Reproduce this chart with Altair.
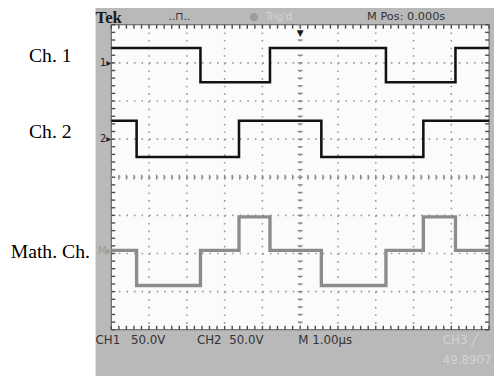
import altair as alt
import pandas as pd

# Oscilloscope capture: time in µs (1.00 µs/div), level in divisions
ch1_t = [0.0, 2.36, 4.20, 7.27, 9.11, 10.0]
ch1_v = [3.39, 2.49, 3.39, 2.49, 3.39, 3.39]
ch2_t = [0.0, 0.67, 3.38, 5.56, 8.26, 10.0]
ch2_v = [1.48, 0.53, 1.48, 0.53, 1.48, 1.48]
math_t = [0.0, 0.67, 2.36, 3.38, 4.20, 5.56, 7.27, 8.26, 9.11, 10.0]
math_v = [-1.92, -2.84, -1.92, -1.04, -1.92, -2.84, -1.92, -1.04, -1.92, -1.92]

# channel names, ground-reference levels and on-screen markers
channel_names = ["Ch. 1", "Ch. 2", "Math. Ch."]
channel_ground = [3.0, 1.0, -1.93]
channel_markers = ["1\u25B8", "2\u25B8", "M\u25B8"]

# graticule
x_major = [1, 2, 3, 4, 5, 6, 7, 8, 9]
y_major = [-3, -2, -1, 0, 1, 2, 3]
x_minor = [i / 5 for i in range(51)]
y_minor = [i / 5 - 4 for i in range(41)]

W, H = 384, 310
XS = alt.Scale(domain=[0, 10], nice=False, zero=False)
YS = alt.Scale(domain=[-4, 4], nice=False, zero=False)

one = pd.DataFrame({"k": [0]})


def xq(f):
    return alt.X(f, type="quantitative", scale=XS, axis=None)


def yq(f):
    return alt.Y(f, type="quantitative", scale=YS, axis=None)


def label(text, x, y, **kw):
    return alt.Chart(pd.DataFrame({"label": [text]})).mark_text(**kw).encode(
        x=alt.value(x), y=alt.value(y), text="label:N")


bezel = alt.Chart(one).mark_rect(color="#b9b9b9").encode(
    x=alt.value(-16), x2=alt.value(W + 10), y=alt.value(-30), y2=alt.value(H + 60))
screen = alt.Chart(one).mark_rect(fill="#fbfbfb", stroke="#555555", strokeWidth=1).encode(
    x=alt.value(0), x2=alt.value(W), y=alt.value(0), y2=alt.value(H))

dfx = pd.DataFrame({"t": x_major})
dfy = pd.DataFrame({"v": y_major})
gridx = alt.Chart(dfx).mark_rule(color="#9a9a9a", strokeWidth=1.6, strokeDash=[1.6, 6.15]).encode(
    x=xq("t"), y=alt.value(0), y2=alt.value(H))
gridy = alt.Chart(dfy).mark_rule(color="#9a9a9a", strokeWidth=1.6, strokeDash=[1.6, 6.08]).encode(
    y=yq("v"), x=alt.value(0), x2=alt.value(W))

dmx = pd.DataFrame({"t": x_minor})
dmy = pd.DataFrame({"v": y_minor})
tk = dict(color="#4a4a4a", strokeWidth=1.4)
ticks = [
    alt.Chart(dmx).mark_rule(**tk).encode(x=xq("t"), y=alt.value(0), y2=alt.value(4)),
    alt.Chart(dmx).mark_rule(**tk).encode(x=xq("t"), y=alt.value(H - 4), y2=alt.value(H)),
    alt.Chart(dmy).mark_rule(**tk).encode(y=yq("v"), x=alt.value(0), x2=alt.value(4)),
    alt.Chart(dmy).mark_rule(**tk).encode(y=yq("v"), x=alt.value(W - 4), x2=alt.value(W)),
    alt.Chart(dmy).mark_rule(color="#8a8a8a", strokeWidth=1.4).encode(
        y=yq("v"), x=alt.value(W / 2 - 2.5), x2=alt.value(W / 2 + 2.5)),
    alt.Chart(dmx).mark_rule(color="#8a8a8a", strokeWidth=1.4).encode(
        x=xq("t"), y=alt.value(H / 2 - 2.5), y2=alt.value(H / 2 + 2.5)),
]

d1 = pd.DataFrame({"t": ch1_t, "v": ch1_v})
d2 = pd.DataFrame({"t": ch2_t, "v": ch2_v})
dm = pd.DataFrame({"t": math_t, "v": math_v})
tr1 = alt.Chart(d1).mark_line(interpolate="step-after", color="#121212", strokeWidth=2.6).encode(
    x=xq("t"), y=yq("v"))
tr2 = alt.Chart(d2).mark_line(interpolate="step-after", color="#121212", strokeWidth=2.6).encode(
    x=xq("t"), y=yq("v"))
trm = alt.Chart(dm).mark_line(interpolate="step-after", color="#8c8c8c", strokeWidth=3.4).encode(
    x=xq("t"), y=yq("v"))

dch = pd.DataFrame({"name": channel_names, "g": channel_ground, "mk": channel_markers})
name_style = dict(font="Liberation Serif", fontSize=20, color="#000000",
                  align="center", baseline="middle")
names_top = alt.Chart(dch).transform_filter(
    alt.FieldOneOfPredicate(field="name", oneOf=channel_names[:2])
).mark_text(dy=-7, **name_style).encode(x=alt.value(-62), y=yq("g"), text="name:N")
names_math = alt.Chart(dch).transform_filter(
    alt.FieldEqualPredicate(field="name", equal=channel_names[2])
).mark_text(dy=1, **name_style).encode(x=alt.value(-62), y=yq("g"), text="name:N")
markers = alt.Chart(dch).mark_text(font="DejaVu Sans", fontSize=10, align="right",
                                   baseline="middle").encode(
    x=alt.value(0), y=yq("g"), text="mk:N",
    color=alt.Color("mk:N", scale=alt.Scale(domain=channel_markers,
                                            range=["#222222", "#222222", "#9a9a9a"]), legend=None))

dark = "#333333"
faint = "#d4d4d4"
hy = -7.5
fy = H + 11
texts = [
    label("Tek", -16, -2, font="Liberation Serif", fontSize=17, fontWeight="bold",
          color="#1a1a1a", align="left", baseline="alphabetic"),
    label("..\u2293..", 58, hy, font="DejaVu Sans", fontSize=11, color=dark,
          align="left", baseline="middle"),
    label("\u25CF", 145, hy, font="DejaVu Sans", fontSize=11, color="#9c9c9c",
          align="center", baseline="middle"),
    label("Trig'd", 157, hy, font="DejaVu Sans", fontSize=10, color=faint,
          align="left", baseline="middle"),
    label("M Pos: 0.000s", 260, hy, font="DejaVu Sans", fontSize=11.5, color=dark,
          align="left", baseline="middle"),
    label("\u25BC", W / 2, 8, font="DejaVu Sans", fontSize=9, color="#1a1a1a",
          align="center", baseline="middle"),
    label("CH1", -16, fy, font="DejaVu Sans", fontSize=12, color=dark,
          align="left", baseline="middle"),
    label("50.0V", 20, fy, font="DejaVu Sans", fontSize=12, color=dark,
          align="left", baseline="middle"),
    label("CH2", 87, fy, font="DejaVu Sans", fontSize=12, color=dark,
          align="left", baseline="middle"),
    label("50.0V", 120, fy, font="DejaVu Sans", fontSize=12, color=dark,
          align="left", baseline="middle"),
    label("M 1.00\u00B5s", 190, fy, font="DejaVu Sans", fontSize=12, color=dark,
          align="left", baseline="middle"),
    label("CH3 \u2571", 337, fy, font="DejaVu Sans", fontSize=12, color=faint,
          align="left", baseline="middle"),
    label("49.8907", 337, H + 31, font="DejaVu Sans", fontSize=12, color=faint,
          align="left", baseline="middle"),
]

chart = alt.layer(bezel, screen, gridx, gridy, *ticks, trm, tr1, tr2, names_top, names_math,
                  markers, *texts).properties(
    width=W, height=H,
    autosize=alt.AutoSizeParams(type="none"),
    padding={"left": 105, "top": 14, "right": 5, "bottom": 44},
).configure_view(stroke=None).configure(background="white")

chart.save("out.html", embed_options={"renderer": "svg", "actions": False})
